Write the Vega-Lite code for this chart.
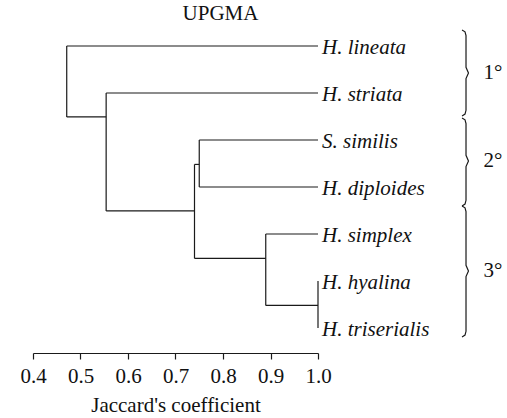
{
  "$schema": "https://vega.github.io/schema/vega-lite/v6.json",
  "autosize": "none",
  "width": 285,
  "height": 323,
  "padding": {"left": 33, "top": 30, "right": 189, "bottom": 65},
  "background": "white",
  "config": {"view": {"stroke": null}, "font": "Liberation Serif"},
  "title": {"text": "UPGMA", "font": "Liberation Serif", "fontSize": 21, "fontWeight": "normal", "color": "#111", "anchor": "middle", "frame": "group", "dx": 45, "offset": 4},
  "datasets": {
    "segments": [
      {"x": 0.471, "x2": 0.471, "y": 1, "y2": 2.51},
      {"x": 0.554, "x2": 0.554, "y": 2, "y2": 4.51},
      {"x": 0.74, "x2": 0.74, "y": 3.52, "y2": 5.52},
      {"x": 0.75, "x2": 0.75, "y": 3, "y2": 4},
      {"x": 0.89, "x2": 0.89, "y": 5, "y2": 6.52},
      {"x": 1.0, "x2": 1.0, "y": 6, "y2": 7},
      {"x": 0.471, "x2": 1.0, "y": 1, "y2": 1},
      {"x": 0.471, "x2": 0.554, "y": 2.51, "y2": 2.51},
      {"x": 0.554, "x2": 1.0, "y": 2, "y2": 2},
      {"x": 0.554, "x2": 0.74, "y": 4.51, "y2": 4.51},
      {"x": 0.74, "x2": 0.75, "y": 3.52, "y2": 3.52},
      {"x": 0.75, "x2": 1.0, "y": 3, "y2": 3},
      {"x": 0.75, "x2": 1.0, "y": 4, "y2": 4},
      {"x": 0.74, "x2": 0.89, "y": 5.52, "y2": 5.52},
      {"x": 0.89, "x2": 1.0, "y": 5, "y2": 5},
      {"x": 0.89, "x2": 1.0, "y": 6.52, "y2": 6.52}
    ],
    "leaves": [
      {"name": "H. lineata", "sim": 1.0, "pos": 1},
      {"name": "H. striata", "sim": 1.0, "pos": 2},
      {"name": "S. similis", "sim": 1.0, "pos": 3},
      {"name": "H. diploides", "sim": 1.0, "pos": 4},
      {"name": "H. simplex", "sim": 1.0, "pos": 5},
      {"name": "H. hyalina", "sim": 1.0, "pos": 6},
      {"name": "H. triserialis", "sim": 1.0, "pos": 7}
    ],
    "braces": [
      {"b": 1, "i": 1, "x": 1.3032, "y": 0.658},
      {"b": 1, "i": 2, "x": 1.3095, "y": 0.698},
      {"b": 1, "i": 3, "x": 1.3116, "y": 0.778},
      {"b": 1, "i": 4, "x": 1.3116, "y": 1.453},
      {"b": 1, "i": 5, "x": 1.3168, "y": 1.573},
      {"b": 1, "i": 6, "x": 1.3116, "y": 1.693},
      {"b": 1, "i": 7, "x": 1.3116, "y": 2.368},
      {"b": 1, "i": 8, "x": 1.3095, "y": 2.448},
      {"b": 1, "i": 9, "x": 1.3032, "y": 2.488},
      {"b": 2, "i": 1, "x": 1.3032, "y": 2.531},
      {"b": 2, "i": 2, "x": 1.3095, "y": 2.571},
      {"b": 2, "i": 3, "x": 1.3116, "y": 2.651},
      {"b": 2, "i": 4, "x": 1.3116, "y": 3.326},
      {"b": 2, "i": 5, "x": 1.3168, "y": 3.446},
      {"b": 2, "i": 6, "x": 1.3116, "y": 3.566},
      {"b": 2, "i": 7, "x": 1.3116, "y": 4.283},
      {"b": 2, "i": 8, "x": 1.3095, "y": 4.363},
      {"b": 2, "i": 9, "x": 1.3032, "y": 4.403},
      {"b": 3, "i": 1, "x": 1.3032, "y": 4.403},
      {"b": 3, "i": 2, "x": 1.3095, "y": 4.443},
      {"b": 3, "i": 3, "x": 1.3116, "y": 4.523},
      {"b": 3, "i": 4, "x": 1.3116, "y": 5.666},
      {"b": 3, "i": 5, "x": 1.3168, "y": 5.786},
      {"b": 3, "i": 6, "x": 1.3116, "y": 5.906},
      {"b": 3, "i": 7, "x": 1.3116, "y": 7.07},
      {"b": 3, "i": 8, "x": 1.3095, "y": 7.15},
      {"b": 3, "i": 9, "x": 1.3032, "y": 7.19}
    ],
    "groups": [
      {"label": "1°", "x": 1.3684, "y": 1.573},
      {"label": "2°", "x": 1.3684, "y": 3.446},
      {"label": "3°", "x": 1.3684, "y": 5.786}
    ]
  },
  "layer": [
    {
      "data": {"name": "segments"},
      "mark": {"type": "rule", "color": "#1a1a1a", "strokeWidth": 1.2},
      "encoding": {
        "x": {"field": "x", "type": "quantitative", "scale": {"domain": [0.4, 1.0], "nice": false, "zero": false},
          "axis": {"values": [0.4, 0.5, 0.6, 0.7, 0.8, 0.9, 1.0], "format": ".1f", "title": "Jaccard's coefficient", "grid": false,
            "domainColor": "#1a1a1a", "domainWidth": 1.2, "tickColor": "#1a1a1a", "tickWidth": 1.2, "tickSize": 6,
            "labelFont": "Liberation Serif", "labelFontSize": 21, "labelColor": "#111", "labelPadding": 6, "labelFlush": false,
            "titleFont": "Liberation Serif", "titleFontSize": 21, "titleFontWeight": "normal", "titleColor": "#111", "titlePadding": 8}},
        "x2": {"field": "x2"},
        "y": {"field": "y", "type": "quantitative", "scale": {"domain": [7.532, 0.66], "nice": false, "zero": false}, "axis": null},
        "y2": {"field": "y2"}
      }
    },
    {
      "data": {"name": "leaves"},
      "mark": {"type": "text", "align": "left", "baseline": "middle", "dx": 4, "dy": 2, "font": "Liberation Serif", "fontStyle": "italic", "fontSize": 21, "color": "#111"},
      "encoding": {
        "x": {"field": "sim", "type": "quantitative"},
        "y": {"field": "pos", "type": "quantitative"},
        "text": {"field": "name"}
      }
    },
    {
      "data": {"name": "braces"},
      "mark": {"type": "line", "color": "#1a1a1a", "strokeWidth": 1.2},
      "encoding": {
        "x": {"field": "x", "type": "quantitative"},
        "y": {"field": "y", "type": "quantitative"},
        "detail": {"field": "b"},
        "order": {"field": "i"}
      }
    },
    {
      "data": {"name": "groups"},
      "mark": {"type": "text", "align": "center", "baseline": "middle", "font": "Liberation Serif", "fontSize": 21, "color": "#111"},
      "encoding": {
        "x": {"field": "x", "type": "quantitative"},
        "y": {"field": "y", "type": "quantitative"},
        "text": {"field": "label"}
      }
    }
  ]
}
